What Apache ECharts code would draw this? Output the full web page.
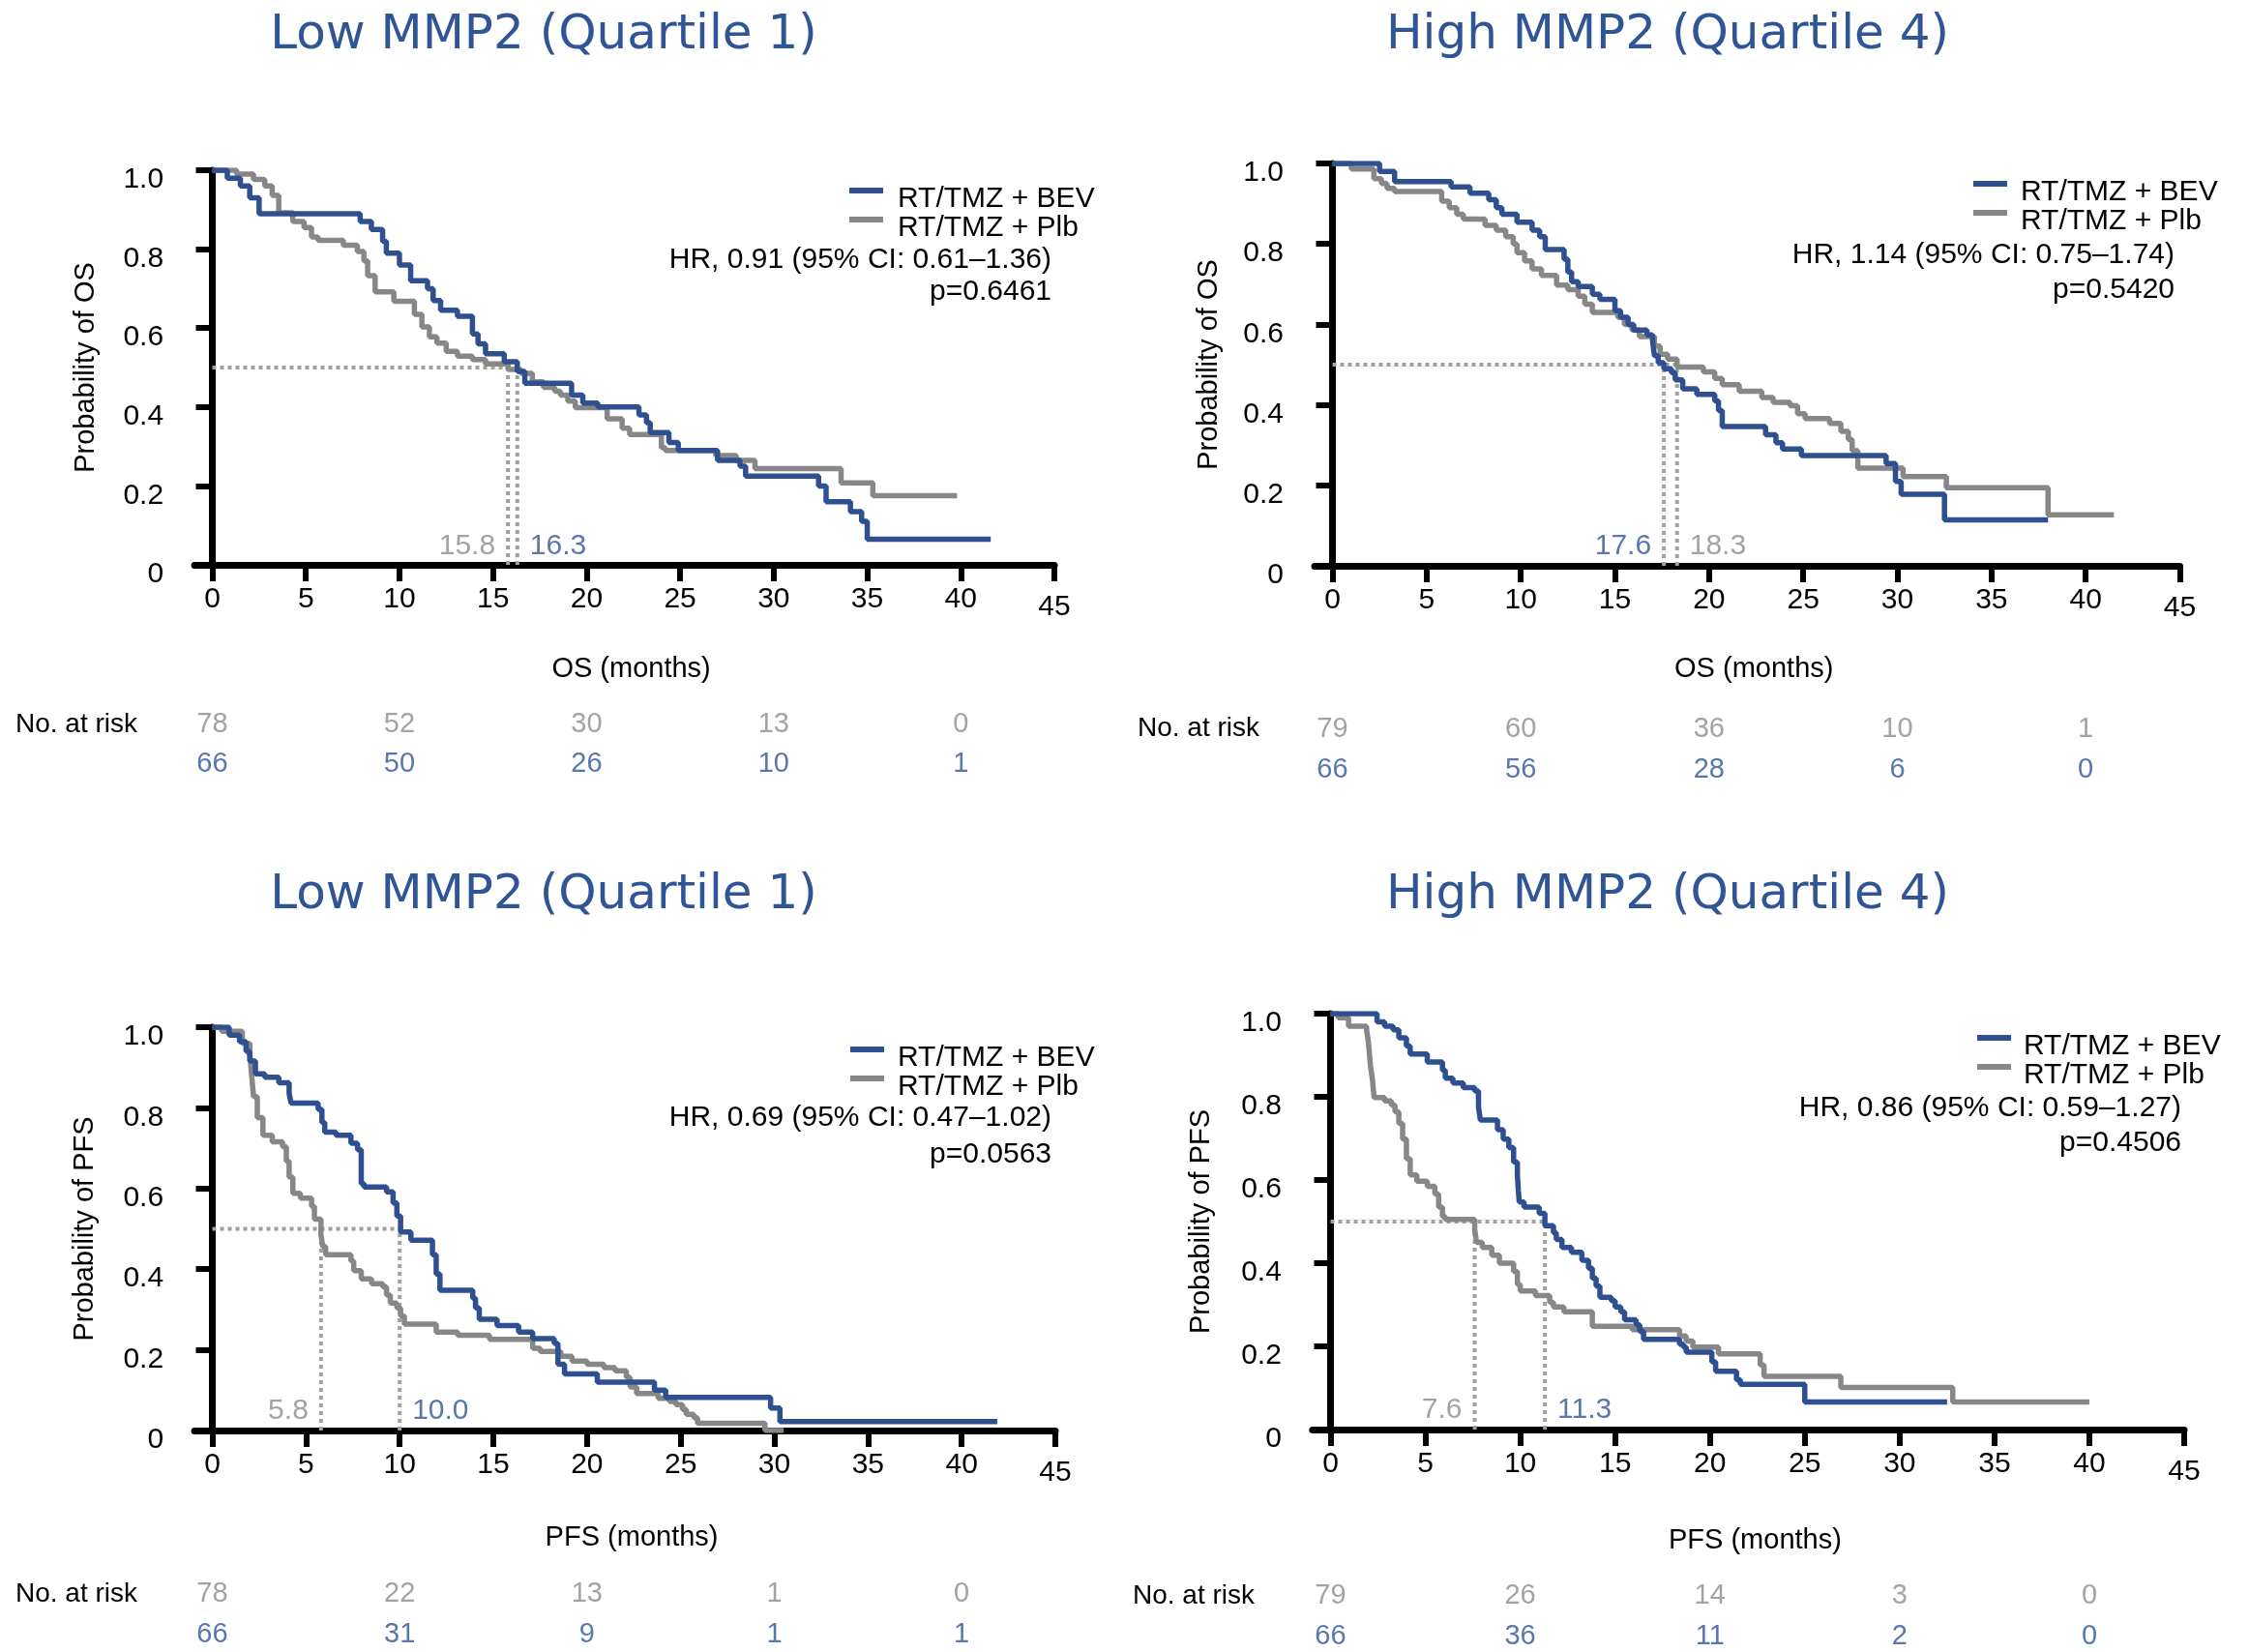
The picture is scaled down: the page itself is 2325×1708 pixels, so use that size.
<!DOCTYPE html>
<html><head><meta charset="utf-8">
<script src="https://cdn.jsdelivr.net/npm/echarts@6/dist/echarts.min.js"></script>
<style>html,body{margin:0;padding:0;background:#fff}#main{width:2325px;height:1708px}</style>
</head><body><div id="main"></div>
<script>
// ---------------- DATA ----------------
const xTickValues = [0, 5, 10, 15, 20, 25, 30, 35, 40, 45];
const riskTimes = [0, 10, 20, 30, 40];
const panelTitles = ['Low MMP2 (Quartile 1)', 'High MMP2 (Quartile 4)', 'Low MMP2 (Quartile 1)', 'High MMP2 (Quartile 4)'];
const xAxisNames = ['OS (months)', 'OS (months)', 'PFS (months)', 'PFS (months)'];
const yAxisNames = ['Probability of OS', 'Probability of OS', 'Probability of PFS', 'Probability of PFS'];
const seriesNames = ['RT/TMZ + BEV', 'RT/TMZ + Plb'];

// Kaplan-Meier curves: [time (months), survival probability after the step]
const osLowBev = [[0,1],[0.8,0.98],[1.5,0.96],[2.0,0.93],[2.5,0.89],[7.9,0.87],[8.5,0.85],[9.1,0.82],[9.3,0.79],[10.0,0.76],[10.6,0.72],[11.5,0.70],[11.8,0.67],[12.2,0.645],[13.1,0.63],[13.9,0.585],[14.2,0.56],[14.6,0.535],[15.6,0.515],[16.3,0.49],[16.7,0.46],[19.2,0.43],[19.8,0.41],[20.6,0.40],[22.8,0.38],[23.2,0.36],[23.4,0.335],[24.4,0.31],[24.9,0.29],[27.0,0.265],[28.2,0.25],[28.5,0.225],[32.4,0.20],[32.8,0.16],[34.1,0.135],[34.7,0.11],[35.0,0.065],[41.6,0.065]];
const osLowPlb = [[0,1],[1.3,0.99],[2.2,0.977],[2.8,0.96],[3.2,0.936],[3.55,0.892],[4.3,0.87],[4.9,0.855],[5.3,0.831],[5.65,0.822],[7.0,0.81],[7.75,0.794],[8.1,0.77],[8.3,0.733],[8.7,0.692],[9.7,0.668],[10.8,0.635],[11.2,0.603],[11.6,0.578],[12.0,0.562],[12.5,0.541],[13.1,0.529],[13.9,0.52],[14.6,0.509],[15.8,0.495],[16.5,0.485],[17.1,0.464],[17.7,0.45],[18.3,0.44],[18.6,0.43],[19.0,0.415],[19.4,0.398],[21.1,0.37],[21.9,0.346],[22.3,0.33],[24.0,0.297],[24.2,0.29],[26.9,0.277],[28.0,0.265],[29.0,0.244],[33.6,0.208],[35.3,0.175],[39.8,0.175]];
const osHighBev = [[0,1],[2.5,0.98],[3.3,0.955],[6.3,0.942],[7.3,0.926],[8.3,0.91],[8.7,0.89],[9.0,0.874],[9.8,0.854],[10.6,0.834],[11.0,0.818],[11.3,0.786],[12.3,0.762],[12.5,0.73],[12.7,0.706],[13.05,0.694],[13.8,0.675],[14.2,0.662],[15.0,0.634],[15.3,0.618],[15.7,0.60],[16.0,0.586],[16.7,0.574],[17.0,0.558],[17.1,0.522],[17.3,0.505],[17.6,0.49],[18.0,0.48],[18.2,0.462],[18.6,0.44],[19.35,0.426],[20.3,0.41],[20.5,0.386],[20.7,0.346],[23.0,0.326],[23.55,0.306],[23.9,0.29],[24.9,0.274],[29.4,0.254],[29.9,0.21],[30.2,0.178],[32.5,0.114],[38.0,0.114]];
const osHighPlb = [[0,1],[1.0,0.986],[2.2,0.962],[2.6,0.95],[2.9,0.938],[3.3,0.93],[5.8,0.906],[6.2,0.89],[6.6,0.874],[6.95,0.862],[8.1,0.846],[8.7,0.834],[9.2,0.818],[9.6,0.80],[9.8,0.778],[10.2,0.758],[10.6,0.738],[11.1,0.722],[11.9,0.698],[12.5,0.686],[13.05,0.67],[13.4,0.65],[13.8,0.63],[15.15,0.618],[15.5,0.60],[15.9,0.586],[16.3,0.57],[17.1,0.546],[17.4,0.526],[17.8,0.514],[18.3,0.494],[19.7,0.482],[20.3,0.466],[20.7,0.45],[21.6,0.434],[22.8,0.418],[23.4,0.406],[24.3,0.398],[24.7,0.378],[25.1,0.366],[26.4,0.354],[27.0,0.334],[27.4,0.314],[27.6,0.286],[27.9,0.243],[30.3,0.222],[32.6,0.194],[38.0,0.127],[41.5,0.127]];
const pfsLowBev = [[0,1],[0.9,0.98],[1.45,0.964],[1.8,0.94],[2.0,0.916],[2.3,0.884],[2.8,0.876],[3.55,0.862],[4.1,0.836],[4.2,0.812],[5.65,0.796],[5.85,0.764],[6.0,0.74],[6.6,0.732],[7.4,0.712],[7.75,0.696],[7.95,0.612],[8.1,0.604],[9.3,0.592],[9.65,0.564],[9.85,0.532],[10.05,0.492],[10.6,0.472],[11.75,0.436],[11.95,0.388],[12.15,0.348],[13.9,0.328],[14.05,0.304],[14.25,0.276],[15.2,0.26],[16.35,0.244],[17.1,0.228],[18.25,0.216],[18.45,0.164],[18.8,0.14],[20.55,0.12],[23.6,0.10],[24.2,0.082],[29.8,0.056],[30.3,0.022],[41.9,0.022]];
const pfsLowPlb = [[0,1],[0.5,0.99],[1.6,0.96],[2.0,0.932],[2.1,0.88],[2.2,0.828],[2.4,0.776],[2.7,0.732],[3.2,0.716],[3.75,0.704],[3.95,0.668],[4.1,0.628],[4.3,0.588],[4.7,0.576],[5.3,0.556],[5.45,0.524],[5.8,0.484],[5.9,0.456],[6.05,0.436],[7.4,0.42],[7.55,0.396],[7.95,0.376],[8.5,0.364],[9.1,0.356],[9.3,0.336],[9.5,0.316],[9.85,0.304],[10.05,0.284],[10.25,0.264],[11.95,0.244],[13.1,0.236],[14.8,0.226],[17.1,0.204],[17.5,0.196],[18.6,0.184],[19.2,0.172],[20.0,0.164],[20.9,0.156],[21.5,0.148],[22.1,0.132],[22.3,0.108],[22.65,0.092],[23.8,0.08],[24.4,0.072],[24.75,0.064],[25.1,0.052],[25.3,0.04],[25.7,0.032],[25.9,0.018],[29.5,0.0],[30.5,0.0]];
const pfsHighBev = [[0,1],[2.45,0.98],[2.85,0.97],[3.3,0.961],[3.6,0.942],[4.0,0.922],[4.2,0.903],[5.1,0.884],[5.9,0.864],[6.05,0.845],[6.45,0.833],[7.0,0.822],[7.6,0.814],[7.8,0.775],[7.9,0.744],[8.8,0.721],[9.1,0.698],[9.4,0.678],[9.65,0.643],[9.85,0.612],[9.9,0.574],[9.95,0.547],[10.2,0.535],[11.0,0.52],[11.3,0.49],[11.75,0.473],[11.9,0.457],[12.2,0.438],[12.7,0.426],[13.25,0.407],[13.6,0.388],[13.8,0.364],[14.0,0.345],[14.2,0.318],[14.8,0.31],[15.0,0.295],[15.3,0.283],[15.5,0.264],[16.1,0.252],[16.3,0.236],[16.5,0.217],[18.4,0.205],[18.6,0.198],[18.75,0.186],[20.1,0.163],[20.3,0.14],[21.4,0.12],[21.6,0.109],[25.0,0.066],[32.5,0.066]];
const pfsHighPlb = [[0,1],[0.4,0.99],[0.95,0.97],[1.9,0.961],[2.0,0.93],[2.1,0.876],[2.2,0.845],[2.3,0.798],[2.85,0.79],[3.2,0.78],[3.4,0.764],[3.6,0.736],[3.8,0.698],[4.0,0.651],[4.2,0.612],[4.55,0.597],[5.1,0.585],[5.5,0.566],[5.7,0.535],[5.9,0.512],[6.05,0.505],[7.6,0.48],[7.7,0.45],[8.0,0.438],[8.5,0.419],[8.9,0.40],[9.65,0.38],[9.85,0.349],[10.0,0.333],[10.8,0.322],[11.55,0.306],[11.75,0.295],[12.3,0.283],[13.8,0.248],[15.9,0.24],[18.4,0.225],[18.75,0.213],[19.1,0.198],[20.45,0.182],[22.65,0.155],[22.85,0.128],[26.9,0.101],[32.8,0.066],[40.0,0.066]];

// Medians (months)
const medianBev = [16.3, 17.6, 10.0, 11.3];
const medianPlb = [15.8, 18.3, 5.8, 7.6];
const medianLevel = 0.5;
const medianLabelLevel = 0.048;

// Hazard ratio and p texts
const hrTexts = ['HR, 0.91 (95% CI: 0.61\u20131.36)', 'HR, 1.14 (95% CI: 0.75\u20131.74)', 'HR, 0.69 (95% CI: 0.47\u20131.02)', 'HR, 0.86 (95% CI: 0.59\u20131.27)'];
const pTexts = ['p=0.6461', 'p=0.5420', 'p=0.0563', 'p=0.4506'];

// Numbers at risk at riskTimes
const riskPlbOsLow = [78, 52, 30, 13, 0];
const riskBevOsLow = [66, 50, 26, 10, 1];
const riskPlbOsHigh = [79, 60, 36, 10, 1];
const riskBevOsHigh = [66, 56, 28, 6, 0];
const riskPlbPfsLow = [78, 22, 13, 1, 0];
const riskBevPfsLow = [66, 31, 9, 1, 1];
const riskPlbPfsHigh = [79, 26, 14, 3, 0];
const riskBevPfsHigh = [66, 36, 11, 2, 0];

// ---------------- LAYOUT / STYLE ----------------
const FONT = '"Liberation Sans", Arial, sans-serif';
const BLUE = '#2E5090';
const BLUE_TXT = '#2F5597';
const GREY = '#878787';
const GREY_TXT = '#8C8C8C';
const DOT = '#A0A0A0';
const xMin = -0.95;
// legend icon: bar at top of a taller box so the text sits a little below the bar
const LEGEND_ICON = 'path://M0,0L35,0L35,6L0,6Z M0,23L0.01,23L0.01,23.01L0,23.01Z';

const layout = [
  {x0:219.5, x45:1090, yTop:176, yBot:584, gapX:93.5, gapY:98, risk:[749,790], riskLabel:[16,749], title:[562,37.5], legend:[878,190.5,10], hrX:1087, hrY:[269,302]},
  {x0:1377.5, x45:2253.5, yTop:169, yBot:585, gapX:92.5, gapY:95, risk:[754,796], riskLabel:[1176,753], title:[1724,37.5], legend:[2040,183.5,9], hrX:2248, hrY:[264,300]},
  {x0:219.5, x45:1091, yTop:1062, yBot:1479, gapX:96.5, gapY:99, risk:[1648,1690], riskLabel:[16,1648], title:[562,926], legend:[879,1078.5,9], hrX:1087, hrY:[1156,1194]},
  {x0:1375.5, x45:2258, yTop:1048, yBot:1478, gapX:100.5, gapY:100, risk:[1650,1692], riskLabel:[1171,1650], title:[1724,926], legend:[2044,1066.5,8], hrX:2255, hrY:[1145.5,1182]}
];

const curves = [[osLowBev, osLowPlb], [osHighBev, osHighPlb], [pfsLowBev, pfsLowPlb], [pfsHighBev, pfsHighPlb]];
const risks = [[riskPlbOsLow, riskBevOsLow], [riskPlbOsHigh, riskBevOsHigh], [riskPlbPfsLow, riskBevPfsLow], [riskPlbPfsHigh, riskBevPfsHigh]];

const grids = [], xAxes = [], yAxes = [], series = [], legends = [], graphics = [];

layout.forEach((L, i) => {
  const unit = (L.x45 - L.x0) / 45;
  const left = L.x0 + xMin * unit;
  const width = L.x45 - left;
  grids.push({left: left, top: L.yTop, width: width, height: L.yBot - L.yTop});
  xAxes.push({
    type: 'value', gridIndex: i, min: xMin, max: 45,
    axisLine: {show: true, lineStyle: {color: '#000', width: 7}},
    axisTick: {show: true, customValues: xTickValues, length: 17, lineStyle: {color: '#000', width: 6}},
    axisLabel: {show: true, customValues: xTickValues, margin: 32, lineHeight: 8, fontSize: 30, fontFamily: FONT, color: '#000',
      formatter: v => (v === 45 ? '\n45' : String(v))},
    splitLine: {show: false},
    name: xAxisNames[i], nameLocation: 'middle', nameGap: L.gapX,
    nameTextStyle: {fontSize: 29, fontFamily: FONT, color: '#000', lineHeight: 29, padding: [0, 0, 0, 14]}
  });
  yAxes.push({
    type: 'value', gridIndex: i, min: 0, max: 1, interval: 0.2,
    axisLine: {show: true, lineStyle: {color: '#000', width: 7}},
    axisTick: {show: true, length: 17, lineStyle: {color: '#000', width: 6}},
    axisLabel: {margin: 32, fontSize: 30, fontFamily: FONT, color: '#000', lineHeight: 20,
      formatter: v => '\n' + (v === 0 ? '0' : v.toFixed(1))},
    splitLine: {show: false},
    name: yAxisNames[i], nameLocation: 'middle', nameGap: L.gapY,
    nameTextStyle: {fontSize: 29, fontFamily: FONT, color: '#000', lineHeight: 29}
  });
});

// risk table grids (invisible, same x scale as the plot above)
layout.forEach((L, i) => {
  const unit = (L.x45 - L.x0) / 45;
  const left = L.x0 + xMin * unit;
  grids.push({left: left, top: L.risk[0], width: L.x45 - left, height: L.risk[1] - L.risk[0]});
  xAxes.push({type: 'value', gridIndex: 4 + i, min: xMin, max: 45, show: false});
  yAxes.push({type: 'value', gridIndex: 4 + i, min: 0, max: 1, show: false});
});

layout.forEach((L, i) => {
  const mb = medianBev[i], mp = medianPlb[i];
  const mMax = Math.max(mb, mp);
  const dotStyle = {color: DOT, width: 4, type: [4, 4]};
  const base = {type: 'line', xAxisIndex: i, yAxisIndex: i, symbol: 'none', silent: true, z: 1, lineStyle: dotStyle};
  series.push(Object.assign({}, base, {data: [[0, medianLevel], [mMax, medianLevel]]}));
  series.push(Object.assign({}, base, {data: [[mp, 0], [mp, medianLevel]]}));
  series.push(Object.assign({}, base, {data: [[mb, 0], [mb, medianLevel]]}));

  series.push({type: 'line', name: seriesNames[1], xAxisIndex: i, yAxisIndex: i, step: 'end', symbol: 'none', z: 2,
    data: curves[i][1], lineStyle: {color: GREY, width: 5.5}, itemStyle: {color: GREY}});
  series.push({type: 'line', name: seriesNames[0], xAxisIndex: i, yAxisIndex: i, step: 'end', symbol: 'none', z: 3,
    data: curves[i][0], lineStyle: {color: BLUE, width: 5.5}, itemStyle: {color: BLUE}});

  // median labels
  [[mp, GREY_TXT], [mb, BLUE_TXT]].forEach(([m, col]) => {
    const pos = m === Math.min(mb, mp) ? 'left' : 'right';
    series.push({type: 'scatter', xAxisIndex: i, yAxisIndex: i, symbolSize: 0, silent: true, z: 4,
      data: [[m, medianLabelLevel]],
      label: {show: true, position: pos, distance: 13, formatter: () => m.toFixed(1), fontSize: 30, fontFamily: FONT, color: col}});
  });

  // numbers at risk
  [[risks[i][0], 1, GREY_TXT], [risks[i][1], 0, BLUE_TXT]].forEach(([vals, row, col]) => {
    series.push({type: 'scatter', xAxisIndex: 4 + i, yAxisIndex: 4 + i, symbolSize: 0, silent: true,
      data: riskTimes.map((t, k) => [t, row, vals[k]]),
      label: {show: true, position: 'inside', formatter: p => String(p.value[2]), fontSize: 29, fontFamily: FONT, color: col}});
  });

  legends.push({
    orient: 'vertical', left: L.legend[0], top: L.legend[1], padding: 0, itemGap: 0,
    itemWidth: 35, itemHeight: 23, icon: LEGEND_ICON, selectedMode: false,
    data: seriesNames,
    textStyle: {fontSize: 30, fontFamily: FONT, color: '#000', lineHeight: 30, padding: [0, 0, 0, L.legend[2]]}
  });

  graphics.push({type: 'text', x: L.title[0], y: L.title[1], silent: true,
    style: {text: panelTitles[i], fill: BLUE_TXT, fontSize: 50, fontFamily: '"DejaVu Sans", Verdana, sans-serif', align: 'center', verticalAlign: 'middle'}});
  graphics.push({type: 'text', x: L.riskLabel[0], y: L.riskLabel[1], silent: true,
    style: {text: 'No. at risk', fill: '#000', fontSize: 28, fontFamily: FONT, align: 'left', verticalAlign: 'middle'}});
  graphics.push({type: 'text', x: L.hrX, y: L.hrY[0], silent: true,
    style: {text: hrTexts[i], fill: '#000', fontSize: 30, fontFamily: FONT, align: 'right', verticalAlign: 'middle'}});
  graphics.push({type: 'text', x: L.hrX, y: L.hrY[1], silent: true,
    style: {text: pTexts[i], fill: '#000', fontSize: 30, fontFamily: FONT, align: 'right', verticalAlign: 'middle'}});
});

const chart = echarts.init(document.getElementById('main'), null, {renderer: 'canvas'});
chart.setOption({
  animation: false,
  backgroundColor: '#ffffff',
  textStyle: {fontFamily: FONT},
  grid: grids, xAxis: xAxes, yAxis: yAxes,
  legend: legends,
  series: series,
  graphic: graphics
});
</script>
</body></html>
